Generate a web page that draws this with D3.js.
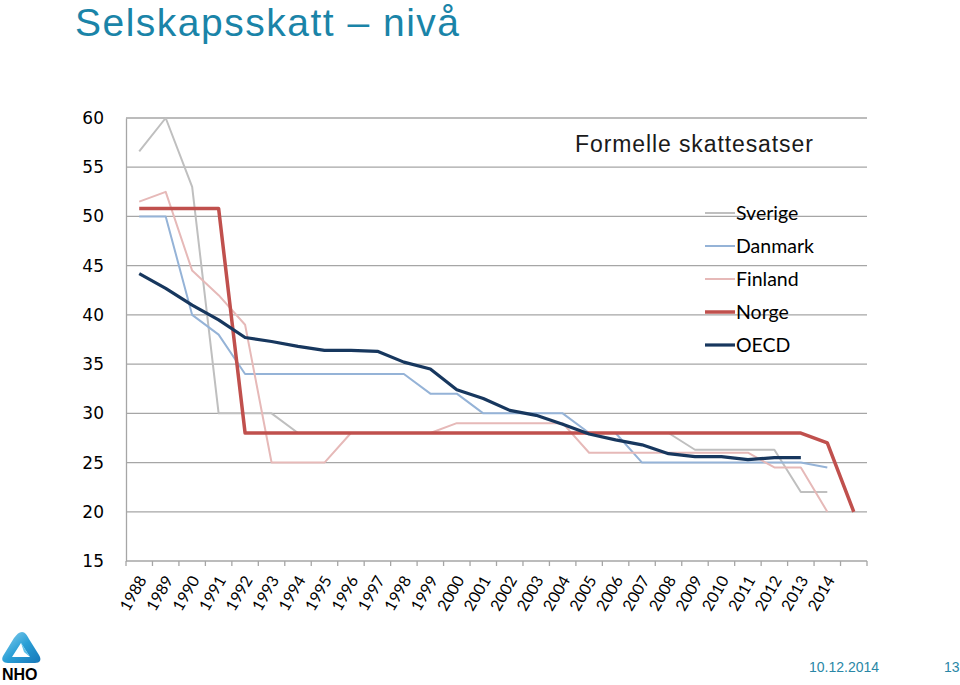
<!DOCTYPE html>
<html><head><meta charset="utf-8">
<script src="https://cdn.jsdelivr.net/npm/d3@7"></script>
<style>
body{margin:0;background:#fff;}
svg{display:block;}
</style></head>
<body>
<svg id="chart" width="960" height="685"></svg>
<script>
const years = ["1988","1989","1990","1991","1992","1993","1994","1995","1996","1997","1998","1999","2000","2001","2002","2003","2004","2005","2006","2007","2008","2009","2010","2011","2012","2013","2014",""];
const yTicks = [15,20,25,30,35,40,45,50,55,60];
const sverige = [56.6,60,53,30,30,30,28,28,28,28,28,28,28,28,28,28,28,28,28,28,28,26.3,26.3,26.3,26.3,22,22,null];
const danmark = [50,50,40,38,34,34,34,34,34,34,34,32,32,30,30,30,30,28,28,25,25,25,25,25,25,25,24.5,null];
const finland = [51.5,52.5,44.5,42,39,25,25,25,28,28,28,28,29,29,29,29,29,26,26,26,26,26,26,26,24.5,24.5,20,null];
const norge = [50.8,50.8,50.8,50.8,28,28,28,28,28,28,28,28,28,28,28,28,28,28,28,28,28,28,28,28,28,28,27,20];
const oecd = [44.2,42.7,41.0,39.5,37.7,37.3,36.8,36.4,36.4,36.3,35.2,34.5,32.4,31.5,30.3,29.8,28.9,27.9,27.3,26.8,25.9,25.6,25.6,25.3,25.5,25.5,null,null];

const series = [
  {name:"Sverige", values:sverige, color:"#bfbfbf", w:2},
  {name:"Danmark", values:danmark, color:"#95b3d7", w:2},
  {name:"Finland", values:finland, color:"#e6b9b8", w:2},
  {name:"Norge",   values:norge,   color:"#c0504d", w:3.5},
  {name:"OECD",    values:oecd,    color:"#17375e", w:3.2}
];

const svg = d3.select("#chart");
const L = 126, R = 867, T = 118, B = 561;

const x = d3.scaleBand().domain(d3.range(years.length)).range([L,R]).paddingInner(0).paddingOuter(0);
const y = d3.scaleLinear().domain([15,60]).range([B,T]);

// Title
svg.append("text").attr("x",75).attr("y",36)
  .attr("font-family","Liberation Sans, Arial, sans-serif").attr("font-size",39)
  .attr("fill","#1a84a8").attr("letter-spacing","1.5")
  .text("Selskapsskatt \u2013 nivå");

// gridlines
const g = svg.append("g");
g.selectAll("line.grid").data(yTicks).join("line")
  .attr("x1",L).attr("x2",R).attr("y1",d=>y(d)).attr("y2",d=>y(d))
  .attr("stroke","#a6a6a6").attr("stroke-width",1.3);

// y axis
const yAxis = d3.axisLeft(y).tickValues(yTicks).tickSize(0).tickPadding(22);
const ya = svg.append("g").attr("transform",`translate(${L},0)`).call(yAxis);
ya.select(".domain").attr("stroke","#a6a6a6").attr("stroke-width",1.3);
ya.selectAll("text").attr("font-family","DejaVu Sans, Verdana, sans-serif").attr("font-size",17).attr("fill","#000");

// x axis with boundary ticks
const xa = svg.append("g").attr("transform",`translate(0,${B})`);
const bounds = d3.range(years.length+1).map(i=> i<years.length ? x(i) : R);
xa.selectAll("line").data(bounds).join("line")
  .attr("x1",d=>d).attr("x2",d=>d).attr("y1",0).attr("y2",5)
  .attr("stroke","#a6a6a6").attr("stroke-width",1.3);
xa.selectAll("text").data(years).join("text")
  .attr("transform",(d,i)=>`translate(${x(i)+x.bandwidth()/2+8},${19}) rotate(-60)`)
  .attr("text-anchor","end")
  .attr("font-family","Lato, Open Sans, sans-serif").attr("font-size",16).attr("fill","#000")
  .text(d=>d);

// lines
const line = d3.line().defined(d=>d!=null).x((d,i)=>x(i)+x.bandwidth()/2).y(d=>y(d));
series.forEach(s=>{
  svg.append("path").datum(s.values).attr("d",line)
    .attr("fill","none").attr("stroke",s.color).attr("stroke-width",s.w)
    .attr("stroke-linejoin","round");
});

// chart subtitle
svg.append("text").attr("x",575).attr("y",152)
  .attr("font-family","Liberation Sans, Arial, sans-serif").attr("font-size",23).attr("fill","#1a1a1a")
  .attr("letter-spacing","0.9")
  .text("Formelle skattesatser");

// legend
const lg = svg.append("g");
series.forEach((s,i)=>{
  const ly = 213 + i*33;
  lg.append("line").attr("x1",705).attr("x2",735).attr("y1",ly).attr("y2",ly)
    .attr("stroke",s.color).attr("stroke-width",s.w);
  lg.append("text").attr("x",736).attr("y",ly+7)
    .attr("font-family","Lato, Open Sans, sans-serif").attr("font-size",19.5).attr("fill","#000")
    .text(s.name);
});

// footer
svg.append("text").attr("x",809).attr("y",672)
  .attr("font-family","Liberation Sans, Arial, sans-serif").attr("font-size",14).attr("fill","#2a87a6")
  .text("10.12.2014");
svg.append("text").attr("x",944).attr("y",672)
  .attr("font-family","Liberation Sans, Arial, sans-serif").attr("font-size",14).attr("fill","#2a87a6")
  .text("13");

// NHO logo
const defs = svg.append("defs");
const grad = defs.append("linearGradient").attr("id","lg1").attr("x1","0").attr("y1","0").attr("x2","1").attr("y2","1");
grad.append("stop").attr("offset","0").attr("stop-color","#8fd3ef");
grad.append("stop").attr("offset","0.5").attr("stop-color","#2a9fd6");
grad.append("stop").attr("offset","1").attr("stop-color","#1777b8");
const logo = svg.append("g").attr("transform","translate(0,630)");
logo.append("path")
  .attr("d","M22,2 C25,2 27,5 29,9 L39,25 C42,30 40,33 35,33 L8,33 C3,33 1,30 3,26 L14,8 C17,4 19,2 22,2 Z M21,13 L12,27 L30,27 Z")
  .attr("fill","url(#lg1)").attr("fill-rule","evenodd");
logo.append("path").attr("d","M21,13 L30,27 L24,22 Z").attr("fill","#5ec0e8");
logo.append("text").attr("x",2).attr("y",50)
  .attr("font-family","Liberation Sans, Arial, sans-serif").attr("font-weight","bold").attr("font-size",16).attr("fill","#000")
  .text("NHO");
</script>
</body></html>
